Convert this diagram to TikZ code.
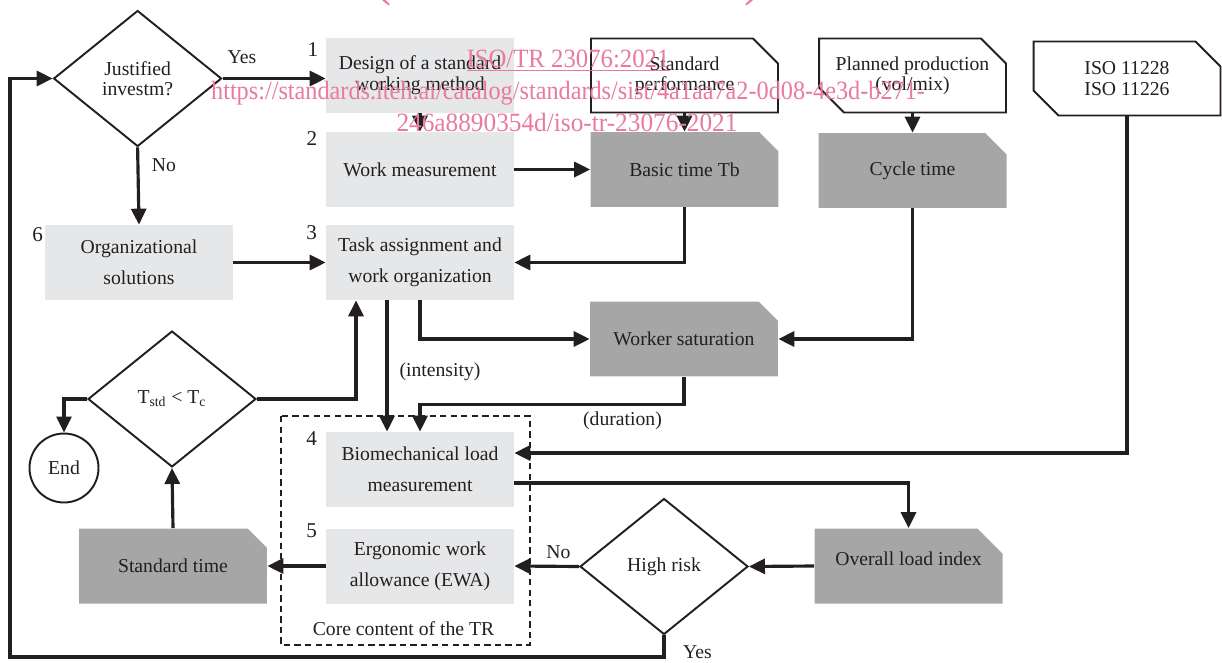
\documentclass[tikz,border=0pt]{standalone}
\usepackage{fontspec}
\setmainfont{Liberation Serif}
\usepackage{graphicx}
\usetikzlibrary{arrows.meta,shapes.geometric,shapes.misc,calc}
\definecolor{ink}{HTML}{231F20}
\definecolor{lightbox}{HTML}{E6E7E8}
\definecolor{darkbox}{HTML}{A6A6A6}
\definecolor{wmpink}{HTML}{E97A9D}
\tikzset{
  base/.style={text=ink, align=center, inner sep=0pt, font=\fontsize{11.2}{11.6}\selectfont},
  stepbox/.style={base, fill=lightbox, minimum width=3.76cm, minimum height=1.5cm,
    font=\fontsize{11.2}{17.6}\selectfont},
  inbox/.style={base, chamfered rectangle, chamfered rectangle corners={north east},
    chamfered rectangle sep=0.25cm, draw=ink, line width=1.1pt, fill=white,
    minimum width=3.74cm, minimum height=1.48cm},
  inbox2/.style={inbox, chamfered rectangle corners={north east,south west}},
  outbox/.style={base, chamfered rectangle, chamfered rectangle corners={north east},
    chamfered rectangle sep=0.25cm, fill=darkbox, minimum width=3.76cm, minimum height=1.5cm},
  decision/.style={base, diamond, draw=ink, line width=1.1pt, fill=white,
    minimum width=3.36cm, minimum height=2.72cm},
  stopnode/.style={base, circle, draw=ink, line width=1.1pt, minimum size=1.38cm},
  flow/.style={draw=ink, line width=1.8pt, -{Triangle[length=0.32cm,width=0.3cm]}},
  core/.style={draw=ink, line width=0.7pt, dash pattern=on 3.6pt off 2.4pt},
  lab/.style={base},
  num/.style={text=ink, inner sep=0pt, font=\fontsize{12}{12}\selectfont},
  wmtext/.style={text=wmpink, inner sep=0pt, anchor=base, font=\fontsize{15}{15}\selectfont}
}
\begin{document}
\begin{tikzpicture}[x=0.02cm, y=-0.02cm]
  \useasboundingbox (0,0) rectangle (1222,662);

  % core of the TR
  \draw[core] (281,416) rectangle (530,645);
  \node[lab] (corelab) at (403.5,629) {Core content of the TR};

  % decisions and steps
  \node[decision] (just) at (137.6,78.5) {Justified\\investm?};
  \node[stepbox, font=\fontsize{11.2}{11.8}\selectfont] (b1) at (420,75.5)
    {Design of a standard\\working method};
  \node[stepbox] (b2) at (420,169.5) {Work measurement};
  \node[stepbox] (b3) at (420,262.5) {Task assignment and\\work organization};
  \node[stepbox] (b4) at (420,469.5) {Biomechanical load\\measurement};
  \node[stepbox] (b5) at (420,566) {Ergonomic work\\allowance (EWA)};
  \node[stepbox] (b6) at (139,262.5) {Organizational\\solutions};

  \node[num] at (313,50) {1};
  \node[num] at (312,139) {2};
  \node[num] at (311.6,233) {3};
  \node[num] at (311.6,439) {4};
  \node[num] at (311.6,531) {5};
  \node[num] at (37.6,235) {6};

  % inputs
  \node[inbox] (sp) at (684.5,75.5) {Standard\\performance};
  \node[inbox2] (pp) at (912.5,75.5) {Planned production\\(vol/mix)};
  \node[inbox2] (iso) at (1127,78.5) {ISO 11228\\ISO 11226};

  % outputs
  \node[outbox] (bt) at (684.5,169.5) {Basic time Tb};
  \node[outbox] (ct) at (912.5,170.5) {Cycle time};
  \node[outbox] (ws) at (684,339) {Worker saturation};
  \node[outbox, text depth=0.3cm] (oli) at (908.5,566) {Overall load index};
  \node[outbox] (st) at (173,566) {Standard time};

  \node[decision] (tstd) at (172,399) {T\textsubscript{std} < T\textsubscript{c}};
  \node[decision] (risk) at (664,566.5) {High risk};
  \node[stopnode] (stop) at (64,468) {End};

  \coordinate (loop) at (10,657);

  % connectors
  \draw[flow] (just.east) -- (just.east -| b1.west);
  \draw[flow] (b1.south) -- (b2.north);
  \draw[flow] (b2.east) -- (b2.east -| bt.west);
  \draw[flow] (sp.south) -- (bt.north);
  \draw[flow] (pp.south) -- (ct.north);
  \draw[flow] (just.south) -- (b6.north);
  \draw[flow] (b6.east) -- (b3.west);
  \draw[flow] (bt.south) |- (b3.east);
  \draw[flow] (ct.south) |- (ws.east);
  \draw[flow] (b3.south) |- (ws.west);
  \draw[flow] ([xshift=-0.66cm]b3.south) -- ([xshift=-0.66cm]b4.north);
  \draw[flow] (ws.south) -- (ws.south |- 0,404.5) -| (b4.north);
  \draw[flow] (iso.south) |- ([yshift=0.33cm]b4.east);
  \draw[flow] ([yshift=-0.27cm]b4.east) -| (oli.north);
  \draw[flow] (oli.west) -- (risk.east);
  \draw[flow] (risk.west) -- (b5.east);
  \draw[flow] (b5.west) -- (st.east);
  \draw[flow] (st.north) -- (tstd.south);
  \draw[flow] (tstd.east) -| ([xshift=-1.28cm]b3.south);
  \draw[flow] (tstd.west) -| (stop.north);
  \draw[flow] (risk.south) |- (loop) |- (just.west);

  \node[lab] (yes1) at (242,57) {Yes};
  \node[lab] (no1) at (164,165) {No};
  \node[lab] (no2) at (558.5,551.7) {No};
  \node[lab] (yes2) at (697.5,651.7) {Yes};
  \node[lab] (intens) at (440,372) {(intensity)};
  \node[lab] (durat) at (622.5,421) {(duration)};

  % watermark
  \begin{scope}
    \clip (0,0) rectangle (1222,662);
    \node[wmtext, font=\fontsize{34}{34}\selectfont] (wm0) at (568,-6)
      {\scalebox{0.91}[1]{(standards.iteh.ai)}};
  \end{scope}
  \node[wmtext] (wm1) at (568,68) {\scalebox{0.94}[1]{\underline{ISO/TR 23076:2021}}};
  \node[wmtext] (wm2) at (568,100)
    {\scalebox{0.92}[1]{https://standards.iteh.ai/catalog/standards/sist/4a1aa7a2-0d08-4e3d-b271-}};
  \node[wmtext] (wm3) at (567,132) {\scalebox{0.96}[1]{246a8890354d/iso-tr-23076-2021}};
\end{tikzpicture}
\end{document}
